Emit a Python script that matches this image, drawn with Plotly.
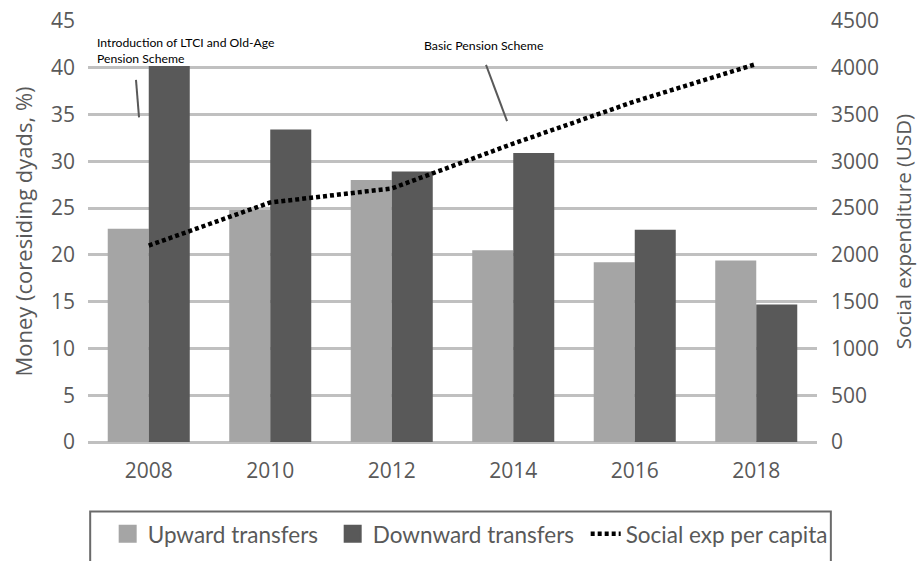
import plotly.graph_objects as go

years = ["2008", "2010", "2012", "2014", "2016", "2018"]
upward = [22.8, 24.8, 28.0, 20.5, 19.2, 19.4]
downward = [40.2, 33.4, 28.9, 30.9, 22.7, 14.7]
social_exp = [2100, 2560, 2710, 3190, 3640, 4040]

AXIS_FONT = "Open Sans, sans-serif"
TEXT_FONT = "Lato, sans-serif"
GREY_TXT = "#595959"
UP_COL = "#a5a5a5"
DOWN_COL = "#595959"

fig = go.Figure()
fig.add_trace(go.Bar(x=years, y=upward, name="Upward transfers", showlegend=False,
                     marker=dict(color=UP_COL, line=dict(width=0))))
fig.add_trace(go.Bar(x=years, y=downward, name="Downward transfers", showlegend=False,
                     marker=dict(color=DOWN_COL, line=dict(width=0))))

# legend keys with larger square swatches
for name, col, lw in [("Upward transfers", UP_COL, 180), ("Downward transfers", DOWN_COL, 208)]:
    fig.add_trace(go.Scatter(x=[None], y=[None], mode="markers", name=name, legendwidth=lw,
                             marker=dict(symbol="square", size=16, color=col,
                                         line=dict(color=col, width=2))))

fig.add_trace(go.Scatter(x=years, y=social_exp, name="Social exp per capita",
                         mode="lines", yaxis="y2",
                         line=dict(color="black", width=4.5, dash="4px,3px")))

# policy annotations with leader lines
fig.add_annotation(x=-0.445, y=43.7, xref="x", yref="y", xanchor="left", yanchor="top",
                   text="Introduction of LTCI and Old-Age<br>Pension Scheme", showarrow=False,
                   align="left", font=dict(family=TEXT_FONT, size=12.2, color="black"))
fig.add_annotation(x=2.245, y=43.4, xref="x", yref="y", xanchor="left", yanchor="top",
                   text="Basic Pension Scheme", showarrow=False, align="left",
                   font=dict(family=TEXT_FONT, size=12.3, color="black"))
fig.add_shape(type="line", xref="x", yref="y", x0=-0.105, y0=38.7, x1=-0.08, y1=34.7,
              line=dict(color="#595959", width=2))
fig.add_shape(type="line", xref="x", yref="y", x0=2.776, y0=40.3, x1=2.949, y1=34.3,
              line=dict(color="#595959", width=2))

# legend frame
fig.add_shape(type="rect", xref="paper", yref="paper", x0=0.003, x1=1.019,
              y0=-0.32, y1=-0.165, line=dict(color="#6a6a6a", width=2),
              fillcolor="rgba(0,0,0,0)", layer="below")

fig.update_layout(
    width=924, height=561,
    margin=dict(l=88, r=107, t=21, b=118.5, autoexpand=False),
    paper_bgcolor="white", plot_bgcolor="white",
    barmode="group", bargap=0.325, bargroupgap=0,
    font=dict(family=AXIS_FONT, color=GREY_TXT),
    showlegend=True,
    legend=dict(orientation="h", x=0.027, y=-0.168, xanchor="left", yanchor="top",
                font=dict(family=TEXT_FONT, size=22.5, color=GREY_TXT),
                bgcolor="rgba(0,0,0,0)", itemwidth=30, tracegroupgap=0),
    xaxis=dict(type="category", showgrid=False, showline=False, ticks="", automargin=False,
               tickfont=dict(size=21, color=GREY_TXT), ticklabelstandoff=14),
    yaxis=dict(range=[0, 45], dtick=5, showgrid=True, gridcolor="#c0c0c0", gridwidth=2.5,
               zeroline=True, zerolinecolor="#c0c0c0", zerolinewidth=2.5, ticks="",
               automargin=False,
               tickfont=dict(size=21, color=GREY_TXT), ticklabelstandoff=12,
               title=dict(text="Money (coresiding dyads, %)", standoff=12,
                          font=dict(size=22, color=GREY_TXT))),
    yaxis2=dict(range=[0, 4500], dtick=500, overlaying="y", side="right",
                showgrid=False, zeroline=False, ticks="", automargin=False,
                tickfont=dict(size=21, color=GREY_TXT), ticklabelstandoff=13,
                title=dict(text="Social expenditure (USD)", standoff=18,
                           font=dict(size=20.5, color=GREY_TXT))),
)

fig.write_html("out.html")
